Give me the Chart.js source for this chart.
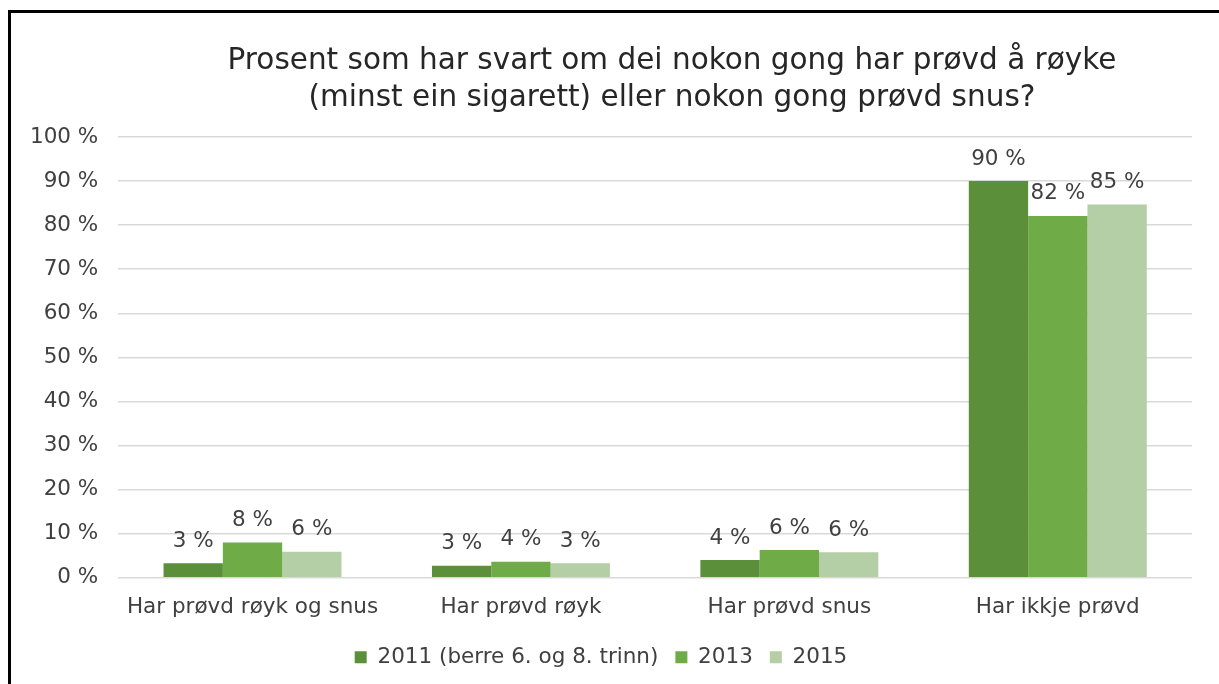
<!DOCTYPE html>
<html>
<head>
<meta charset="utf-8">
<script src="https://cdn.jsdelivr.net/npm/chart.js@4"></script>
<style>
  html, body { margin: 0; padding: 0; background: #fff; }
  #wrap { position: relative; width: 1219px; height: 684px; }
  #frame { position: absolute; left: 8px; top: 10px; right: 0; bottom: 0;
           border-top: 3px solid #000; border-left: 3px solid #000; pointer-events: none; }
</style>
</head>
<body>
<div id="wrap">
  <canvas id="myChart" width="1219" height="684"></canvas>
  <div id="frame"></div>
</div>
<script>
// data
const categories = ['Har prøvd røyk og snus', 'Har prøvd røyk', 'Har prøvd snus', 'Har ikkje prøvd'];
const seriesNames = ['2011 (berre 6. og 8. trinn)', '2013', '2015'];
const values2011 = [3.3, 2.7, 4.0, 90.0];
const values2013 = [8.0, 3.6, 6.3, 82.1];
const values2015 = [5.9, 3.3, 5.8, 84.7];
const colors = ['#5b8f3a', '#6fac47', '#b4cea6'];
const titleLines = ['Prosent som har svart om dei nokon gong har prøvd å røyke',
                    '(minst ein sigarett) eller nokon gong prøvd snus?'];

const fontFamily = '"DejaVu Sans", Verdana, sans-serif';

// title sits a bit right of centre in the original, so it is drawn by hand
const titleText = {
  id: 'titleText',
  afterDraw(chart) {
    const ctx = chart.ctx;
    ctx.save();
    ctx.font = '29.5px ' + fontFamily;
    ctx.fillStyle = '#262626';
    ctx.textAlign = 'center';
    ctx.textBaseline = 'middle';
    ctx.fillText(titleLines[0], 672, 61);
    ctx.fillText(titleLines[1], 672, 98);
    ctx.restore();
  }
};

// draws the "x %" labels over each bar
const barLabels = {
  id: 'barLabels',
  afterDatasetsDraw(chart) {
    const ctx = chart.ctx;
    ctx.save();
    ctx.font = '21.5px ' + fontFamily;
    ctx.fillStyle = '#404040';
    ctx.textAlign = 'center';
    ctx.textBaseline = 'middle';
    chart.data.datasets.forEach((ds, i) => {
      const meta = chart.getDatasetMeta(i);
      meta.data.forEach((bar, j) => {
        ctx.fillText(Math.round(ds.data[j]) + ' %', bar.x, bar.y - 22);
      });
    });
    ctx.restore();
  }
};

const ctx = document.getElementById('myChart').getContext('2d');
let myChart = new Chart(ctx, {
  type: 'bar',
  data: {
    labels: categories,
    datasets: [
      { label: seriesNames[0], data: values2011, backgroundColor: colors[0] },
      { label: seriesNames[1], data: values2013, backgroundColor: colors[1] },
      { label: seriesNames[2], data: values2015, backgroundColor: colors[2] }
    ]
  },
  options: {
    responsive: false,
    animation: false,
    datasets: {
      bar: { barPercentage: 1, categoryPercentage: 0.663 }
    },
    layout: { padding: { left: 10, right: 27, top: 137, bottom: 6 } },
    plugins: {
      title: { display: false },
      legend: {
        position: 'bottom',
        labels: {
          color: '#404040',
          font: { family: fontFamily, size: 21.5 },
          boxWidth: 12,
          boxHeight: 12,
          padding: 17
        }
      },
      tooltip: { enabled: false }
    },
    scales: {
      x: {
        grid: { display: false },
        border: { display: false },
        ticks: { color: '#404040', font: { family: fontFamily, size: 21.5 }, padding: 9, maxRotation: 0 }
      },
      y: {
        min: 0,
        max: 100,
        grid: { color: '#d9d9d9', drawTicks: false, lineWidth: 1.5 },
        border: { display: false },
        ticks: {
          stepSize: 10,
          color: '#404040',
          font: { family: fontFamily, size: 21.5 },
          padding: 20,
          callback: v => v + ' %'
        }
      }
    }
  },
  plugins: [barLabels, titleText]
});
</script>
</body>
</html>
